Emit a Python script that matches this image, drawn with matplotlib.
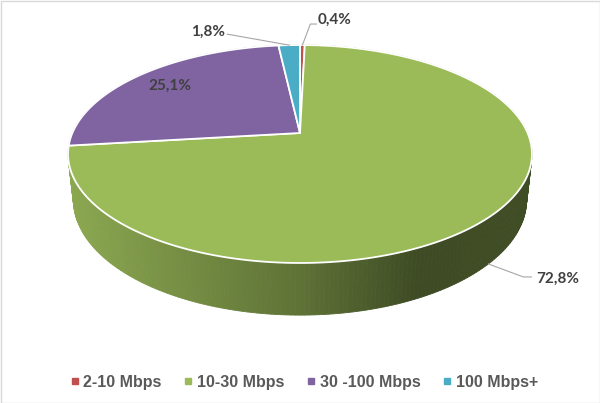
"""3D pie: share of connections by speed band (Excel-style, perspective view)."""
import numpy as np
import matplotlib
matplotlib.use("Agg")
import matplotlib.pyplot as plt
from matplotlib.lines import Line2D
from matplotlib.patches import Polygon, Rectangle

categories = ["2-10 Mbps", "10-30 Mbps", "30 -100 Mbps", "100 Mbps+"]
shares = [0.4, 72.8, 25.1, 1.8]
labels = ["0,4%", "72,8%", "25,1%", "1,8%"]
colors = ["#C0504D", "#9BBB59", "#8064A2", "#4BACC6"]

# camera / geometry (pixel space of the 600x403 canvas)
CX, CY = 300.0, 133.0
F, D = 1048.0, 4.604
ELEV = np.radians(27.45)
S, C = np.sin(ELEV), np.cos(ELEV)
T = 0.229                     # pie thickness (disk radius = 1)

# label layout: (where, leader points rel. to anchor, text offset, ha)
LAYOUT = [
    ("top",    [(8, -21), (14, -21)],  (15, -25), "left"),
    ("bottom", [(35, 13), (43, 13)],   (48, 15),  "left"),
    ("inside", [],                     (0, 0),    "center"),
    ("top",    [(-62, -11)],           (-64, -13), "right"),
]


def proj(theta, r=1.0, z=0.0):
    u, v = r * np.sin(theta), -r * np.cos(theta)
    y = v * S - z * C
    d = D - v * C - z * S
    return CX + F * u / d, CY + F * y / d, d


def side_shade(x):
    return np.interp(x, [67, 300, 420, 532], [0.90, 0.61, 0.40, 0.41])


fig = plt.figure(figsize=(6.0, 4.03), dpi=100)
ax = fig.add_axes([0, 0, 1, 1])
ax.set_xlim(0, 600)
ax.set_ylim(403, 0)
ax.axis("off")

bounds = np.concatenate([[0], np.cumsum(shares)]) / np.sum(shares) * 2 * np.pi

# side walls, painted far to near
quads = []
for i, col in enumerate(colors):
    th = np.linspace(bounds[i], bounds[i + 1], max(int(np.degrees(bounds[i + 1] - bounds[i])), 1) + 1)
    base = np.array(matplotlib.colors.to_rgb(col))
    for a0, a1 in zip(th[:-1], th[1:]):
        x0, y0, d0 = proj(a0)
        x1, y1, d1 = proj(a1)
        x2, y2, _ = proj(a1, z=-T)
        x3, y3, _ = proj(a0, z=-T)
        fc = base * side_shade((x0 + x1) / 2)
        quads.append(((d0 + d1) / 2, [(x0, y0), (x1, y1), (x2, y2), (x3, y3)], fc))
for _, pts, fc in sorted(quads, key=lambda q: -q[0]):
    ax.add_patch(Polygon(pts, closed=True, fc=fc, ec=fc, lw=0.6))

# top faces
cx0, cy0, _ = proj(0.0, r=0.0)
for i, col in enumerate(colors):
    th = np.linspace(bounds[i], bounds[i + 1], 200)
    xs, ys, _ = proj(th)
    pts = [(cx0, cy0)] + list(zip(xs, ys))
    ax.add_patch(Polygon(pts, closed=True, fc=col, ec="white", lw=1.3, joinstyle="round"))

# data labels
lab_font = dict(family=["Lato", "DejaVu Sans"], fontweight="bold", fontsize=11, color="#404040")
for i, (where, leader, (tx, ty), ha) in enumerate(LAYOUT):
    mid = (bounds[i] + bounds[i + 1]) / 2
    if where == "inside":
        x, y, _ = proj(mid, r=0.8)
        ax.text(x, y, labels[i], ha="center", va="center", **lab_font)
        continue
    x, y, _ = proj(mid, z=(-T if where == "bottom" else 0.0))
    lx = [x] + [x + dx for dx, _ in leader]
    ly = [y] + [y + dy for _, dy in leader]
    ax.plot(lx, ly, color="#A6A6A6", lw=0.8, solid_joinstyle="miter")
    ax.text(x + tx, y + ty, labels[i], ha=ha, va="center", **lab_font)

# legend
handles = [Line2D([], [], ls="none", marker="s", ms=4, mfc=c, mec=c) for c in colors]
leg = fig.legend(handles, categories, loc="center", bbox_to_anchor=(304 / 600, 1 - 382 / 403),
                 ncol=4, frameon=False, handlelength=0.6, handletextpad=0.25,
                 columnspacing=1.36, borderpad=0,
                 prop=dict(family="Liberation Sans", weight="bold", size=11.5))
for t in leg.get_texts():
    t.set_color("#595959")

ax.add_patch(Rectangle((0.5, 0.5), 599, 402, fill=False, ec="#D9D9D9", lw=1))

fig.savefig("out.png", dpi=100)
